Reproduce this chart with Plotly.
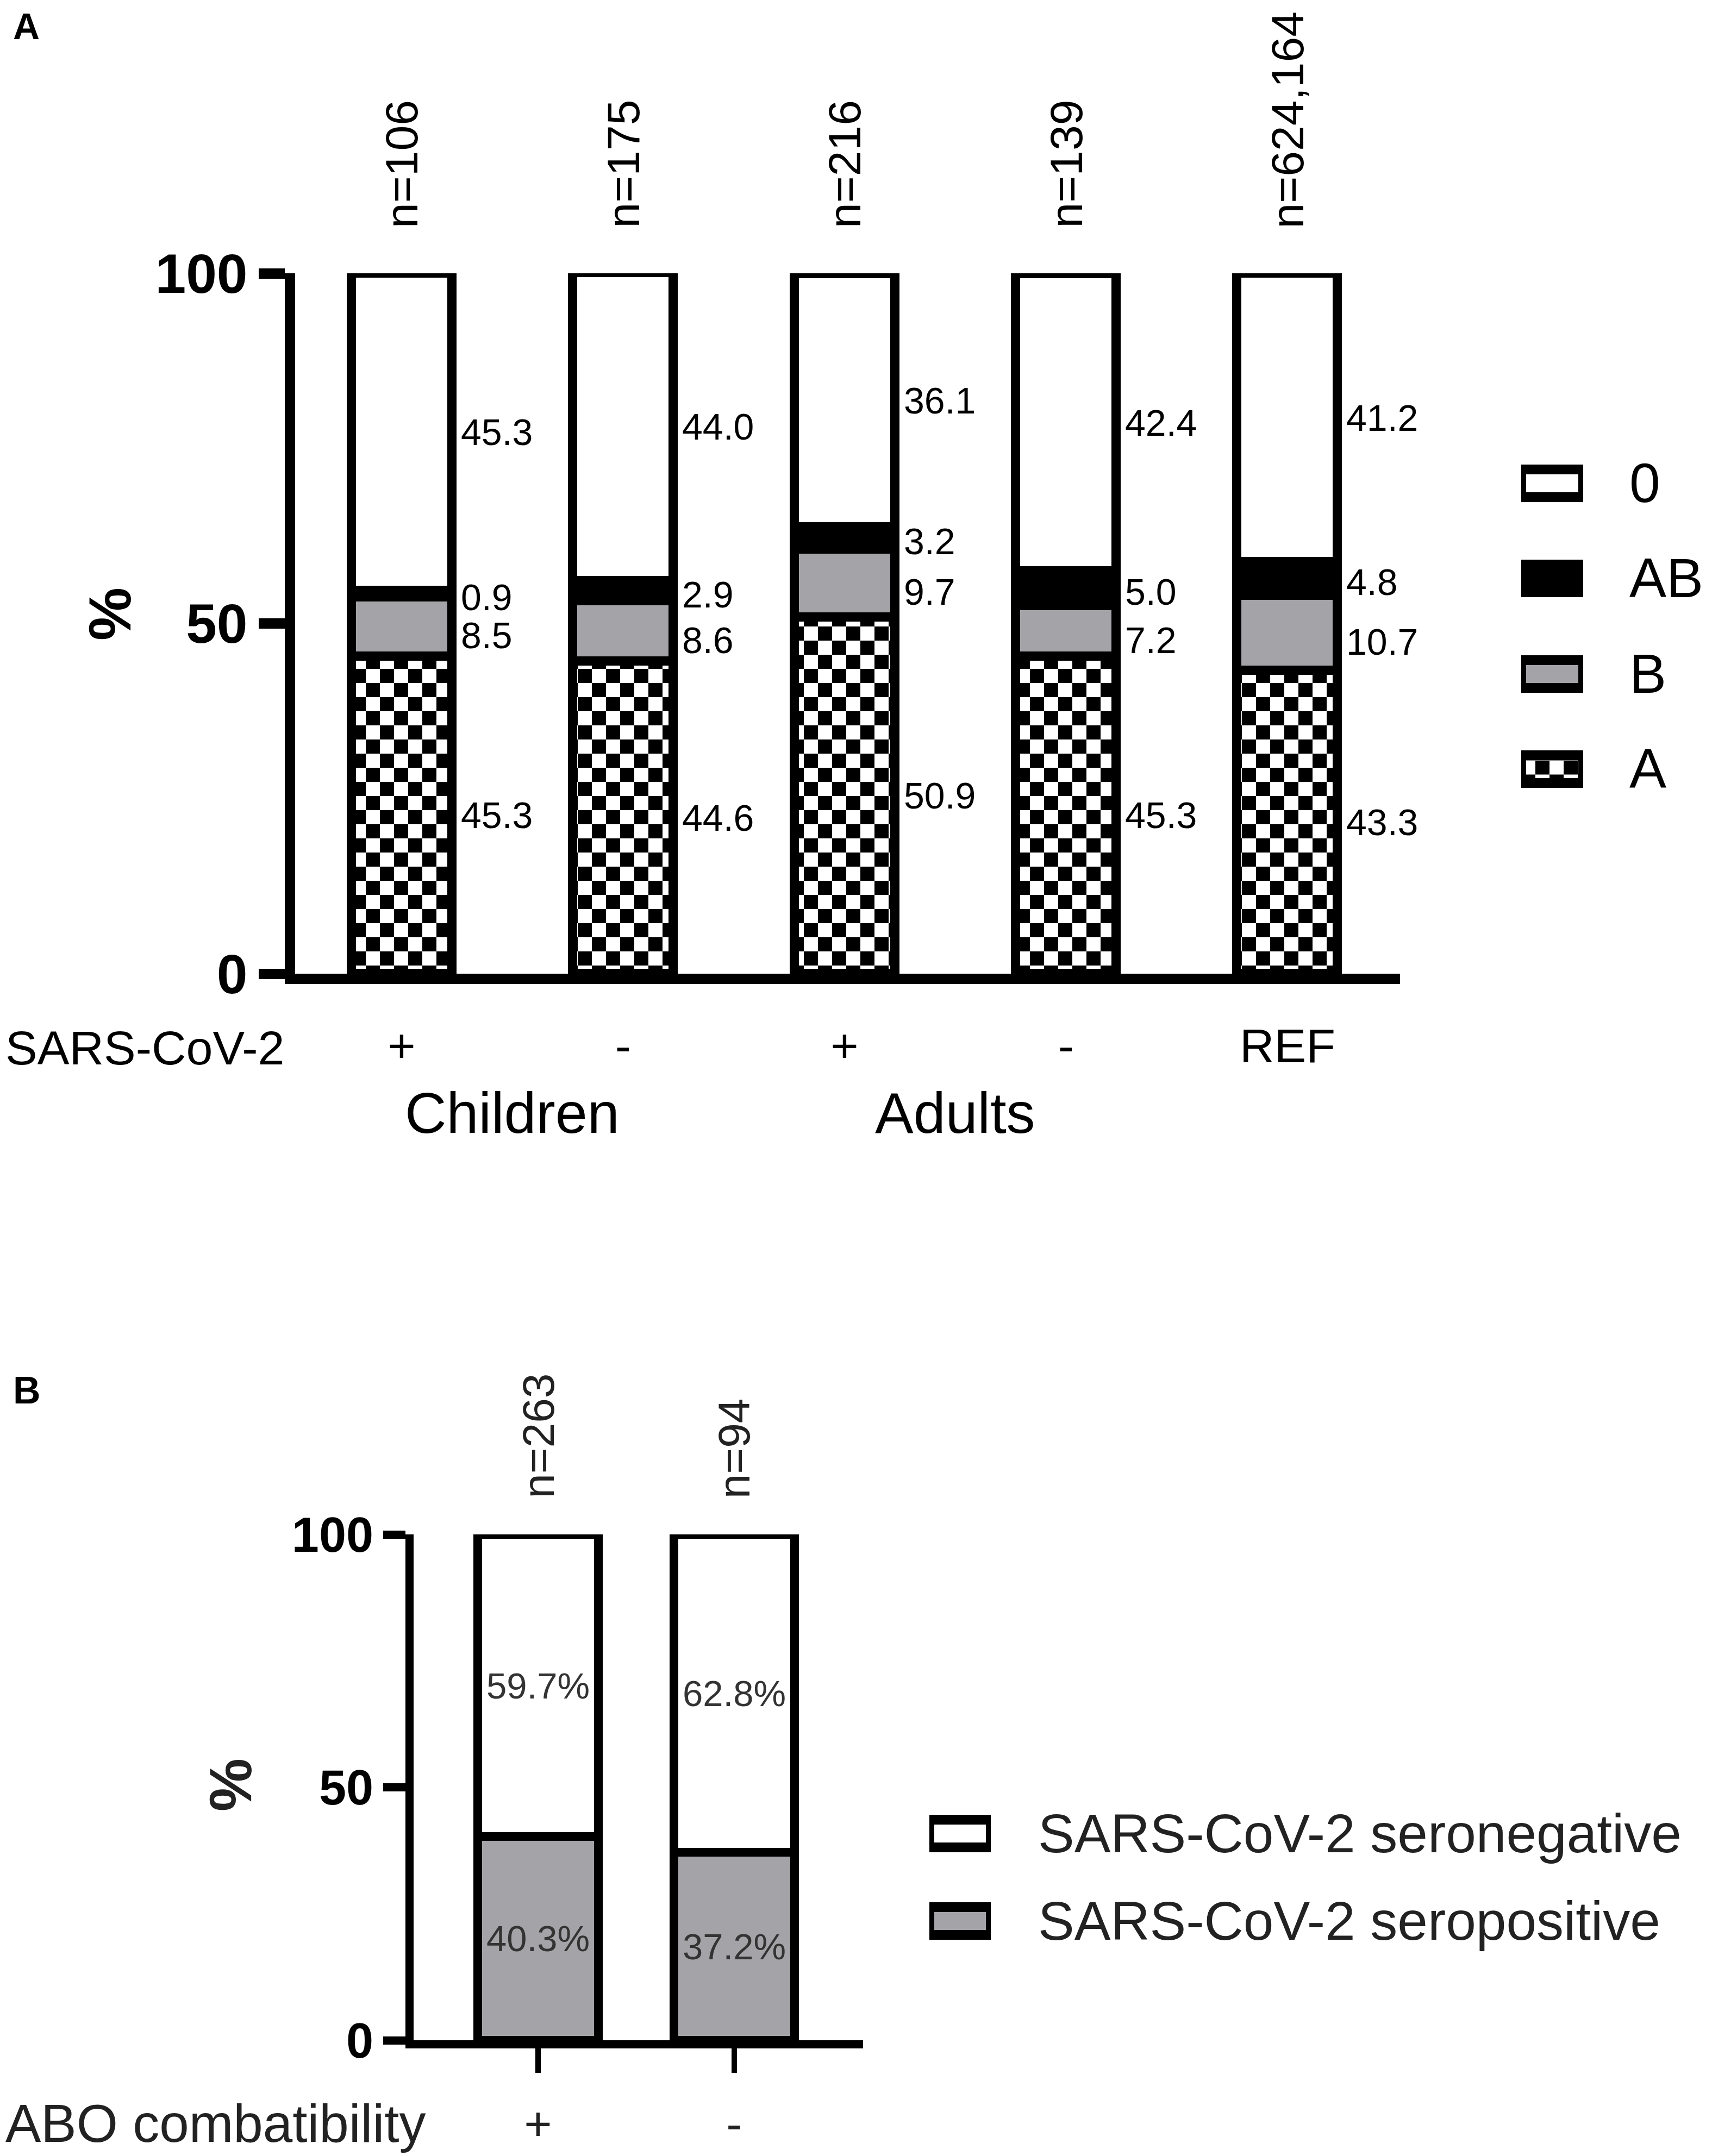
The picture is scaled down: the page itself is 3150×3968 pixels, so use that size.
import plotly.graph_objects as go

W, H = 3150, 3968
FONT = "Liberation Sans, Arial, sans-serif"

# ---------------- panel A: ABO blood groups ----------------
status_a = ["+", "-", "+", "-", "REF"]
cohort_a = ["Children", "Children", "Adults", "Adults", None]
n_a = ["n=106", "n=175", "n=216", "n=139", "n=624,164"]
blood_groups = ["A", "B", "AB", "0"]          # stacked bottom -> top
pct_A = [45.3, 44.6, 50.9, 45.3, 43.3]
pct_B = [8.5, 8.6, 9.7, 7.2, 10.7]
pct_AB = [0.9, 2.9, 3.2, 5.0, 4.8]
pct_0 = [45.3, 44.0, 36.1, 42.4, 41.2]
legend_a = ["0", "AB", "B", "A"]              # legend order top -> bottom

# ---------------- panel B: ABO compatibility ----------------
status_b = ["+", "-"]
n_b = ["n=263", "n=94"]
sero_pos = [40.3, 37.2]
sero_neg = [59.7, 62.8]
sero_names = ["SARS-CoV-2 seronegative", "SARS-CoV-2 seropositive"]

GRAY = "#a4a4a8"
CHECKER = dict(path="M0,0H26V26H0Z M26,26H52V52H26Z", size=52,
               fgcolor="black", bgcolor="white", fillmode="replace")
STYLE = {
    "A": dict(color="white", pattern=CHECKER),
    "B": dict(color=GRAY),
    "AB": dict(color="black"),
    "0": dict(color="white"),
    "SARS-CoV-2 seronegative": dict(color="white"),
    "SARS-CoV-2 seropositive": dict(color=GRAY),
}
# small nudges so the thin AB / B labels don't collide
LABEL_SHIFT = {"A": 0, "B": -16, "AB": -6, "0": 0}


def px(y):
    """pixel row -> paper fraction"""
    return 1 - y / H


def pxx(x):
    return x / W


fig = go.Figure()
ann = []

# ---- panel A bars
series_a = dict(zip(blood_groups, [pct_A, pct_B, pct_AB, pct_0]))
x_a = list(range(len(status_a)))
BW_A = 0.454
base = [0.0] * len(x_a)
for name in blood_groups:
    vals = series_a[name]
    fig.add_trace(go.Bar(
        x=x_a, y=vals, name=name, width=BW_A, xaxis="x", yaxis="y",
        marker=dict(**STYLE[name], line=dict(color="black", width=17)),
        showlegend=False, hoverinfo="y+name"))
    for i, v in enumerate(vals):
        ann.append(dict(x=i + BW_A / 2, y=base[i] + v / 2, xref="x", yref="y",
                        text=f"{v:.1f}", showarrow=False, xanchor="left",
                        xshift=14, yshift=LABEL_SHIFT[name],
                        font=dict(size=68, color="black")))
        base[i] += v

for i, t in enumerate(n_a):
    ann.append(dict(x=i, y=px(414), xref="x", yref="paper", text=t,
                    textangle=-90, showarrow=False, xanchor="center",
                    yanchor="bottom", font=dict(size=84, color="black")))

for grp in ["Children", "Adults"]:
    idx = [i for i, c in enumerate(cohort_a) if c == grp]
    ann.append(dict(x=sum(idx) / len(idx), y=px(2040), xref="x", yref="paper",
                    text=grp, showarrow=False, xanchor="center",
                    yanchor="middle", font=dict(size=106, color="black")))

ann.append(dict(x=0, y=px(1920), xref="paper", yref="paper", text="SARS-CoV-2",
                showarrow=False, xanchor="left", yanchor="middle",
                font=dict(size=88, color="black")))
ann.append(dict(x=pxx(194), y=px(1122), xref="paper", yref="paper", text="%",
                textangle=-90, showarrow=False, xanchor="center",
                yanchor="middle",
                font=dict(size=110, color="black", weight="bold")))
ann.append(dict(x=pxx(14), y=1, xref="paper", yref="paper", text="A",
                showarrow=False, xanchor="left", yanchor="top",
                font=dict(size=68, color="black", weight="bold")))

# ---- panel A legend (swatch bars on their own small axes)
for name in legend_a:
    fig.add_trace(go.Bar(
        x=[1], y=[name], base=0, orientation="h", width=0.291,
        xaxis="x3", yaxis="y3",
        marker=dict(**STYLE[name], line=dict(color="black", width=18)),
        showlegend=False, hoverinfo="skip"))
    ann.append(dict(x=pxx(2988), y=name, xref="paper", yref="y3", text=name,
                    showarrow=False, xanchor="left", yanchor="middle",
                    font=dict(size=102, color="black")))

# ---- panel B bars
x_b = list(range(len(status_b)))
BW_B = 0.615
for name, vals in [("SARS-CoV-2 seropositive", sero_pos),
                   ("SARS-CoV-2 seronegative", sero_neg)]:
    fig.add_trace(go.Bar(
        x=x_b, y=vals, name=name, width=BW_B, xaxis="x2", yaxis="y2",
        text=[f"{v:.1f}%" for v in vals], textposition="inside",
        insidetextanchor="middle", textangle=0,
        insidetextfont=dict(size=67, color="#333333"),
        marker=dict(**STYLE[name], line=dict(color="black", width=16)),
        showlegend=False, hoverinfo="y+name"))

for i, t in enumerate(n_b):
    ann.append(dict(x=i, y=px(2752), xref="x2", yref="paper", text=t,
                    textangle=-90, showarrow=False, xanchor="center",
                    yanchor="bottom", font=dict(size=82, color="#222222")))

ann.append(dict(x=0, y=px(3900), xref="paper", yref="paper",
                text="ABO combatibility", showarrow=False, xanchor="left",
                yanchor="middle", font=dict(size=98, color="#222222")))
ann.append(dict(x=pxx(415), y=px(3277), xref="paper", yref="paper", text="%",
                textangle=-90, showarrow=False, xanchor="center",
                yanchor="middle",
                font=dict(size=110, color="#222222", weight="bold")))
ann.append(dict(x=pxx(14), y=px(2510), xref="paper", yref="paper", text="B",
                showarrow=False, xanchor="left", yanchor="top",
                font=dict(size=70, color="black", weight="bold")))

# ---- panel B legend
for name in sero_names:
    fig.add_trace(go.Bar(
        x=[1], y=[name], base=0, orientation="h", width=0.32,
        xaxis="x4", yaxis="y4",
        marker=dict(**STYLE[name], line=dict(color="black", width=18)),
        showlegend=False, hoverinfo="skip"))
    ann.append(dict(x=pxx(1900), y=name, xref="paper", yref="y4", text=name,
                    showarrow=False, xanchor="left", yanchor="middle",
                    font=dict(size=100, color="#222222")))

hidden = dict(visible=False, showgrid=False, zeroline=False, automargin=False)
axis_common = dict(showgrid=False, zeroline=False, automargin=False,
                   linecolor="black", tickcolor="black", showline=True)

fig.update_layout(
    width=W, height=H,
    margin=dict(l=0, r=0, t=0, b=0, pad=0, autoexpand=False),
    paper_bgcolor="white", plot_bgcolor="rgba(0,0,0,0)",
    font=dict(family=FONT, color="black"),
    barmode="stack", bargap=0, showlegend=False,
    xaxis=dict(domain=[pxx(535), pxx(2568)], range=[-0.481, 4.508],
               tickvals=x_a, ticktext=status_a, ticks="", linewidth=19,
               tickfont=dict(size=88, color="black"), ticklabelstandoff=38,
               anchor="y", **axis_common),
    yaxis=dict(domain=[px(1784), px(495)], range=[0, 100],
               tickvals=[0, 50, 100], ticks="outside", ticklen=48,
               tickwidth=19, linewidth=19,
               tickfont=dict(size=102, color="black", weight="bold"),
               anchor="x", **axis_common),
    xaxis2=dict(domain=[pxx(753), pxx(1580)], range=[-0.634, 1.657],
                tickvals=x_b, ticktext=status_b, ticks="outside", ticklen=45,
                tickwidth=10, linewidth=15,
                tickfont=dict(size=88, color="#222222"), ticklabelstandoff=18,
                anchor="y2", **axis_common),
    yaxis2=dict(domain=[px(3747), px(2816)], range=[0, 100],
                tickvals=[0, 50, 100], ticks="outside", ticklen=41,
                tickwidth=15, linewidth=15,
                tickfont=dict(size=90, color="black", weight="bold"),
                anchor="x2", **axis_common),
    xaxis3=dict(domain=[pxx(2791), pxx(2905)], range=[0, 1], anchor="y3",
                **hidden),
    yaxis3=dict(domain=[px(1494.5), px(793.5)], categoryorder="array",
                categoryarray=legend_a, autorange="reversed", anchor="x3",
                **hidden),
    xaxis4=dict(domain=[pxx(1702), pxx(1815)], range=[0, 1], anchor="y4",
                **hidden),
    yaxis4=dict(domain=[px(3607.5), px(3285.5)], categoryorder="array",
                categoryarray=sero_names, autorange="reversed", anchor="x4",
                **hidden),
    annotations=ann,
)

fig.write_html("out.html")
